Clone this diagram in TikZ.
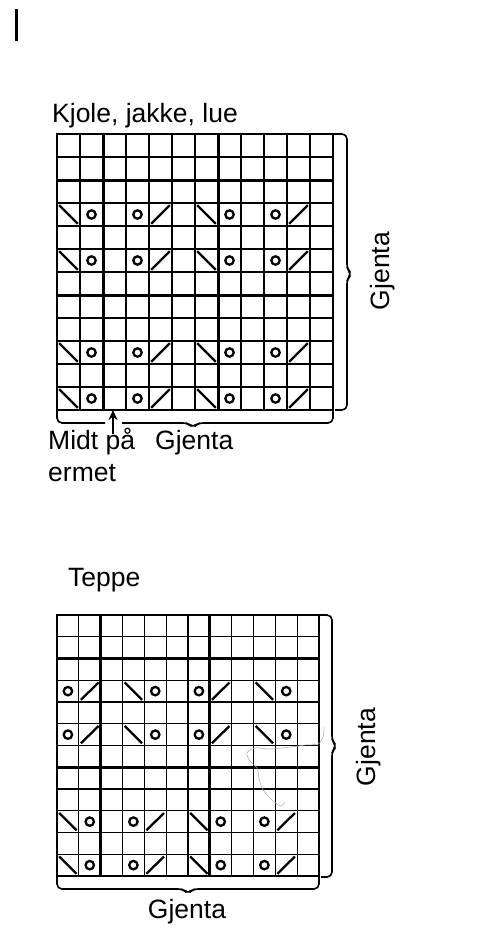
\documentclass[tikz,border=0pt]{standalone}
\usepackage{fontspec}
\setmainfont{Liberation Sans}
\usetikzlibrary{arrows.meta}
\newcommand\knitgrid{%
  \foreach \i in {0,...,12} {\draw[thingrid] ({\gx+\gw*\i},\gy) -- ({\gx+\gw*\i},{\gy+12*\gh});}
  \foreach \j in {0,...,12} {\draw[thingrid] (\gx,{\gy+\gh*\j}) -- ({\gx+12*\gw},{\gy+\gh*\j});}
  \foreach \i in {2,7} {\draw[thickgrid] ({\gx+\gw*\i},\gy) -- ({\gx+\gw*\i},{\gy+12*\gh});
                        \draw[thickgrid] (\gx,{\gy+\gh*\i}) -- ({\gx+12*\gw},{\gy+\gh*\i});}
  \draw[border] (\gx,\gy) rectangle ({\gx+12*\gw},{\gy+12*\gh});
}
\newcommand\symyo[2]{\draw[symb] ({\gx+\gw*(#1+0.5)},{\gy+\gh*(#2+0.5)}) circle[radius=4.2];}
\newcommand\symbk[2]{\draw[symb] ({\gx+\gw*#1+2.2},{\gy+\gh*#2+2.2}) -- ({\gx+\gw*(#1+1)-2.2},{\gy+\gh*(#2+1)-2.2});}
\newcommand\symfw[2]{\draw[symb] ({\gx+\gw*#1+2.2},{\gy+\gh*(#2+1)-2.2}) -- ({\gx+\gw*(#1+1)-2.2},{\gy+\gh*#2+2.2});}
\newcommand\patA[1]{\symbk{0}{#1}\symyo{1}{#1}\symyo{3}{#1}\symfw{4}{#1}\symbk{6}{#1}\symyo{7}{#1}\symyo{9}{#1}\symfw{10}{#1}}
\newcommand\patB[1]{\symyo{0}{#1}\symfw{1}{#1}\symbk{3}{#1}\symyo{4}{#1}\symyo{6}{#1}\symfw{7}{#1}\symbk{9}{#1}\symyo{10}{#1}}
\begin{document}
\begin{tikzpicture}[x=1pt,y=-1pt,
  thingrid/.style={line width=1.1pt},
  thickgrid/.style={line width=3pt},
  border/.style={line width=1.5pt},
  symb/.style={line width=2.3pt},
  bracepath/.style={line width=1.6pt, rounded corners=5pt},
  lbl/.style={font=\fontsize{26.5}{32}\selectfont, inner sep=0pt}]
\useasboundingbox (0,0) rectangle (478,934);
\fill (15,9) rectangle (18,41);

% ---------- top chart ----------
\def\gx{57}\def\gy{134}\def\gw{23}\def\gh{23}
\knitgrid
\patA{3}\patA{5}\patA{9}\patA{11}
\node[lbl, anchor=base west] (t1) at (52,122) {Kjole, jakke, lue};
\draw[bracepath] (333,134) -- (347,134) -- (347,269) -- (352,274) -- (347,279) -- (347,410) -- (335,410);
\draw[bracepath] (57,410) -- (57,423) -- (105,423);
\draw[bracepath] (122,423) -- (188,423) -- (193,428) -- (198,423) -- (333,423) -- (333,410);
\coordinate (arrtail) at (113,434);
\coordinate (arrhead) at (113,410);
\draw[line width=2.2pt, -{Stealth[length=10pt,width=9pt]}] (arrtail) -- (arrhead);
\node[lbl, anchor=base west] (midt) at (48,449) {Midt på};
\node[lbl, anchor=base west] (ermet) at (48,481) {ermet};
\node[lbl, anchor=base west] (g1) at (155,449) {Gjenta};
\node[lbl, anchor=base, rotate=90] (g2) at (389,271) {Gjenta};

% ---------- bottom chart ----------
\def\gx{57}\def\gy{615}\def\gw{21.83}\def\gh{21.75}
\knitgrid
\patB{3}\patB{5}\patA{9}\patA{11}
\node[lbl, anchor=base west] (t2) at (68,586) {Teppe};
\draw[bracepath] (320,615) -- (332,615) -- (332,741) -- (337,746) -- (332,751) -- (332,877) -- (321,877);
\draw[bracepath] (57,876) -- (57,889) -- (183,889) -- (188,894) -- (193,889) -- (319,889) -- (319,876);
\node[lbl, anchor=base, rotate=90] (g3) at (375,747) {Gjenta};
\node[lbl, anchor=base] (g4) at (187,918) {Gjenta};
% stray thread
\draw[gray!70, line width=0.5pt] plot[smooth] coordinates {(324,727) (323,737) (318,744) (305,745) (290,747) (270,749) (255,748) (247,753) (250,761) (257,768) (259,778) (262,788) (270,798) (280,806) (285,802)};
\end{tikzpicture}
\end{document}
